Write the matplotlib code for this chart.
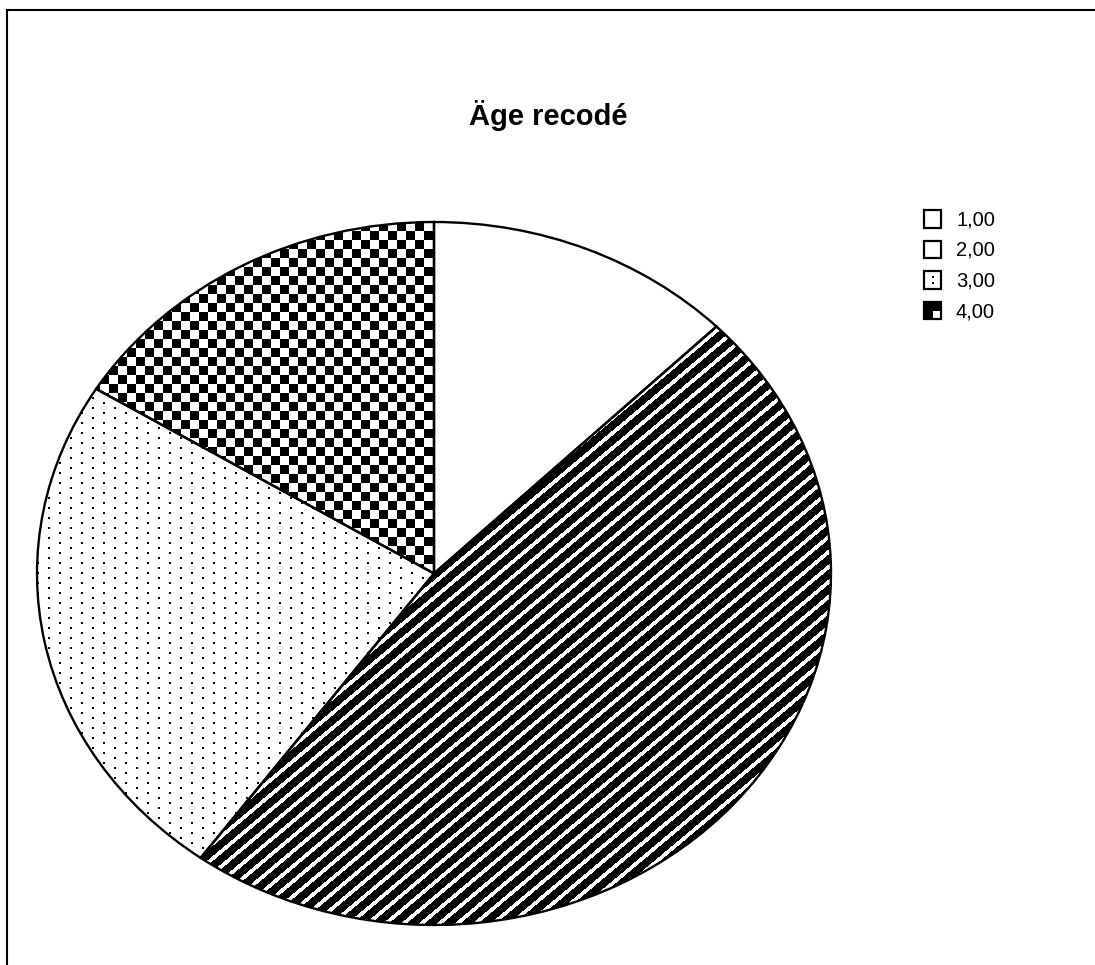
import numpy as np
import matplotlib
matplotlib.use('Agg')
import matplotlib.pyplot as plt
from matplotlib.patches import Rectangle
from matplotlib.lines import Line2D

# data (share of the pie, clockwise from 12 o'clock)
categories = ['1,00', '2,00', '3,00', '4,00']
shares = [12.6, 47.4, 23.8, 16.2]
title = 'Äge recodé'

W, H = 1095, 965
fig = plt.figure(figsize=(W / 100, H / 100), dpi=100)
fig.patch.set_facecolor('white')

def fx(px):
    return px / W

def fy(py):
    return 1 - py / H

# pie sits in an ellipse box (pixels)
left, right, top, bottom = 37, 831, 222, 925
ax = fig.add_axes([fx(left), fy(bottom), (right - left) / W, (bottom - top) / H])
wedges, _ = ax.pie(shares, startangle=90, counterclock=False, radius=1,
                   wedgeprops=dict(facecolor='none', edgecolor='black', linewidth=1.7))
for w in wedges:
    w.set_clip_on(False)
    w.set_zorder(3)

# fill textures, one pixel per array cell
pw, ph = right - left, bottom - top
yy, xx = np.mgrid[0:ph, 0:pw]
a = np.deg2rad(40)
stripes = (((xx * np.sin(a) + yy * np.cos(a)) % 11.5) < 3.8).astype(float)
dots = 1.0 - ((xx % 11 < 2) & (((yy + 5 * ((xx // 11) % 2)) % 10) < 2))
checker = ((xx // 9 + yy // 9) % 2).astype(float)

for w, tex in zip(wedges[1:], [stripes, dots, checker]):
    im = ax.imshow(tex, extent=(-1, 1, -1, 1), cmap='gray', vmin=0, vmax=1,
                   interpolation='nearest', aspect='auto', zorder=1)
    im.set_clip_path(w)

ax.set_aspect('auto')
ax.set_xlim(-1, 1)
ax.set_ylim(-1, 1)
ax.axis('off')

fig.text(fx(548), fy(125), title, ha='center', va='baseline',
         fontsize=21, fontweight='bold', family='Liberation Sans')

# legend
for i, cat in enumerate(categories):
    yc = 219 + 30.5 * i
    x0, s = 924, 17
    fig.add_artist(Rectangle((fx(x0), fy(yc + s / 2)), s / W, s / H,
                             transform=fig.transFigure, facecolor='white',
                             edgecolor='black', linewidth=1.6))
    if i == 2:
        for dy in (-3, 3):
            fig.add_artist(Rectangle((fx(x0 + 8), fy(yc + dy + 1)), 2 / W, 2 / H,
                                     transform=fig.transFigure, facecolor='black',
                                     linewidth=0))
    if i == 3:
        h = s / 2
        for qx, qy in [(0, 0), (0, 1), (1, 0)]:
            fig.add_artist(Rectangle((fx(x0 + qx * h), fy(yc - s / 2 + (qy + 1) * h)),
                                     h / W, h / H, transform=fig.transFigure,
                                     facecolor='black', linewidth=0))
    fig.text(fx(956), fy(yc + 1), cat, ha='left', va='center', fontsize=14.5,
             family='Liberation Sans')

# outer frame (top and left edges)
fig.add_artist(Line2D([fx(7), 1], [fy(10), fy(10)], transform=fig.transFigure,
                      color='black', linewidth=1.5))
fig.add_artist(Line2D([fx(7), fx(7)], [fy(10), 0], transform=fig.transFigure,
                      color='black', linewidth=1.5))

fig.savefig('out.png', dpi=100)
